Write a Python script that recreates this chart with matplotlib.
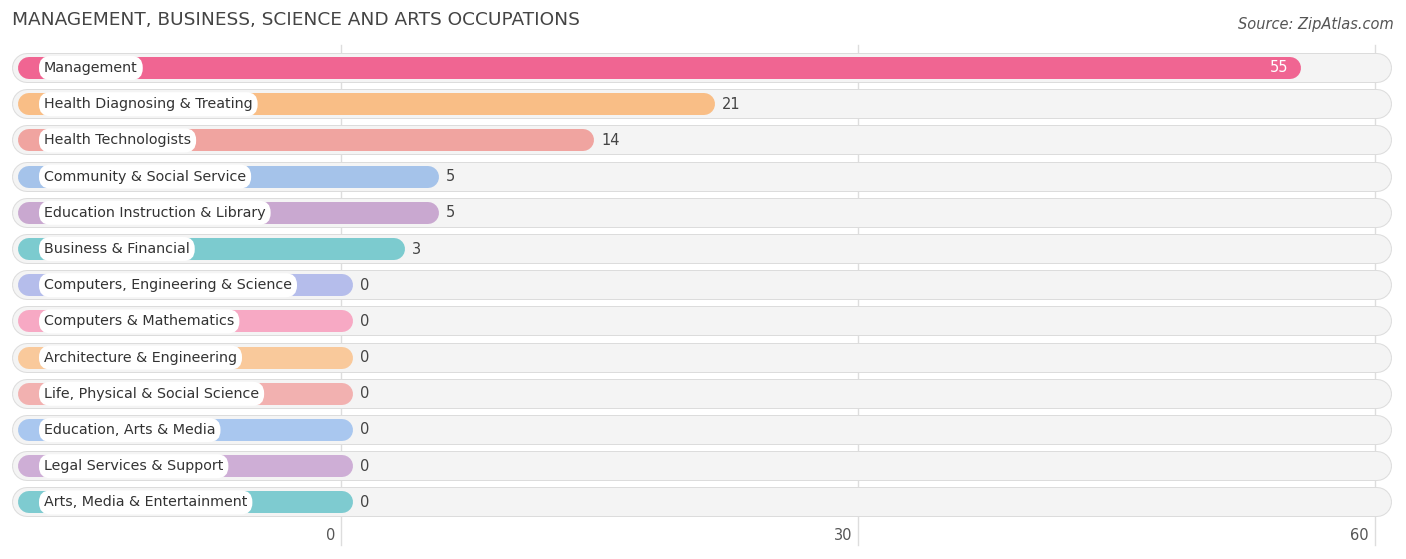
import matplotlib
matplotlib.use("Agg")
import matplotlib.pyplot as plt

categories = ["Management", "Health Diagnosing & Treating", "Health Technologists",
              "Community & Social Service", "Education Instruction & Library",
              "Business & Financial", "Computers, Engineering & Science",
              "Computers & Mathematics", "Architecture & Engineering",
              "Life, Physical & Social Science", "Education, Arts & Media",
              "Legal Services & Support", "Arts, Media & Entertainment"]
values = [55, 21, 14, 5, 5, 3, 0, 0, 0, 0, 0, 0, 0]
colors = ["#f06592", "#f9be86", "#f0a4a0", "#a5c3ea", "#c9a8d0", "#7ccbcf",
          "#b5bdeb", "#f7a9c4", "#f9c99b", "#f2b1b0", "#a9c7ef", "#ceaed6", "#7ecbd0"]
ticks = [0, 30, 60]

W, H = 1406, 559
fig = plt.figure(figsize=(W/100, H/100), dpi=100)
ax = fig.add_axes([0, 0, 1, 1])
k = (1375 - 341) / 60.0
ax.set_xlim((0 - 341) / k, (W - 341) / k)
rs = 36.2
ax.set_ylim((H - 68) / rs, (0 - 68) / rs)
ax.axis("off")
px = lambda p: (p - 341) / k
dx = lambda p: p / k

for t in ticks:
    ax.plot([t, t], [(45-68)/rs, (545-68)/rs], color="#dddddd", lw=1, zorder=0)
    ax.text(t - dx(6), (535-68)/rs, str(t), ha="right", va="center", fontsize=10.5, color="#555555")

for i, (c, v, col) in enumerate(zip(categories, values, colors)):
    ax.plot([px(12+15), px(1392-15)], [i, i], color="#dcdcdc", lw=30*0.72,
            solid_capstyle="round", zorder=1)
    ax.plot([px(12+15), px(1392-15)], [i, i], color="#f4f4f4", lw=28*0.72,
            solid_capstyle="round", zorder=1)
    end = v + dx(353 - 11 - 341)
    ax.plot([px(29), end], [i, i], color=col, lw=22*0.72, solid_capstyle="round", zorder=2)
    ax.text(px(44), i, c, ha="left", va="center", fontsize=10.3, color="#333333", zorder=4,
            bbox=dict(boxstyle="round,pad=0.35,rounding_size=0.8", fc="white", ec="none"))
    if v >= 40:
        ax.text(end - dx(2), i, str(v), ha="right", va="center", fontsize=10.5, color="white", zorder=4)
    else:
        ax.text(end + dx(18), i, str(v), ha="left", va="center", fontsize=10.5, color="#444444", zorder=4)

fig.text(12/W, 1 - 20/H, "MANAGEMENT, BUSINESS, SCIENCE AND ARTS OCCUPATIONS", ha="left", va="center",
         fontsize=13.3, color="#444444")
fig.text(1394/W, 1 - 24/H, "Source: ZipAtlas.com", ha="right", va="center", fontsize=10.5,
         color="#555555", style="italic")
fig.savefig("out.png", dpi=100)
